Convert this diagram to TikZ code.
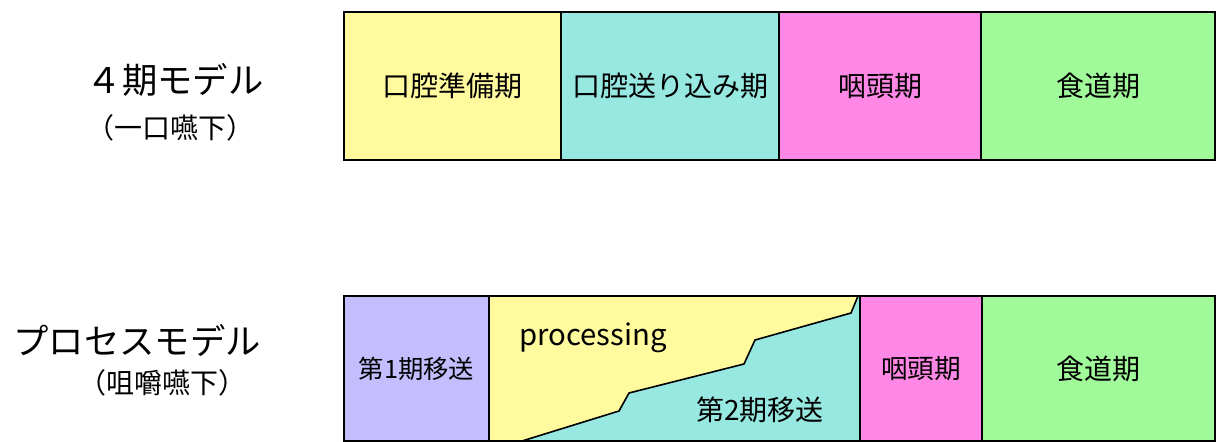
\documentclass[tikz,border=0pt]{standalone}
\usepackage{fontspec}
\setmainfont{Noto Sans CJK JP}
\usetikzlibrary{positioning}
\definecolor{prepyellow}{RGB}{255,250,158}
\definecolor{transcyan}{RGB}{150,232,224}
\definecolor{pharpink}{RGB}{255,136,230}
\definecolor{esogreen}{RGB}{160,250,154}
\definecolor{stagelilac}{RGB}{196,190,255}
\tikzset{%
	phase/.style    = {draw, rectangle, line width=1.2pt, inner sep=0pt, outer sep=0pt, text centered, font=\fontsize{21}{24}\selectfont},
	toprow/.style   = {phase, minimum height=111pt},   % 4-stage bar
	lowrow/.style   = {phase, minimum height=108.75pt}, % process bar
	model/.style    = {font=\fontsize{26.5}{30}\selectfont},
	swallow/.style  = {font=\fontsize{21}{24}\selectfont},
	border/.style   = {line width=1.2pt},
}

\begin{document}
\begin{tikzpicture}[x=0.75pt,y=-0.75pt]
	\useasboundingbox (0,0) rectangle (1216,442);
	% four stage model
	\node [model] (fourname) at (175,80) {４期モデル};
	\node [swallow] (fourswallow) at (170,128) {（一口嚥下）};
	\node [toprow,fill=prepyellow,minimum width=162.75pt,anchor=north west] (prep) at (344,12) {口腔準備期};
	\node [toprow,fill=transcyan,minimum width=163.5pt,right=0pt of prep] (oral) {口腔送り込み期};
	\node [toprow,fill=pharpink,minimum width=151.5pt,right=0pt of oral] (phar) {咽頭期};
	\node [toprow,fill=esogreen,minimum width=175.5pt,right=0pt of phar] (eso) {食道期};
	
	% process model
	\node [model] (procname) at (137,340) {プロセスモデル};
	\node [swallow] (procswallow) at (162,383) {（咀嚼嚥下）};
	\node [lowrow,fill=stagelilac,minimum width=108.75pt,anchor=north west,font=\fontsize{19}{22}\selectfont] (stageone) at (344,296) {第1期移送};
	\node [lowrow,fill=prepyellow,minimum width=278.25pt,right=0pt of stageone] (proc) {};
	\node [lowrow,fill=pharpink,minimum width=91.5pt,right=0pt of proc,font=\fontsize{20}{24}\selectfont] (pharlow) {咽頭期};
	\node [lowrow,fill=esogreen,minimum width=174.75pt,right=0pt of pharlow] (esolow) {食道期};
	
	\fill[transcyan] (522,441) -- (619,411) -- (629,393) -- (744,364) -- (755,340) -- (851,313) -- (858,296) -- (proc.north east) -- (proc.south east) -- cycle;
	\draw[border,line join=round] (522,441) -- (619,411) -- (629,393) -- (744,364) -- (755,340) -- (851,313) -- (858,296);
	\draw[border] (proc.south west) rectangle (proc.north east);
	\node [phase,draw=none,font=\fontsize{22}{26}\selectfont] (processing) at (593,338) {processing};
	\node [phase,draw=none] (stagetwo) at (760,410) {第2期移送};
\end{tikzpicture}
\end{document}
